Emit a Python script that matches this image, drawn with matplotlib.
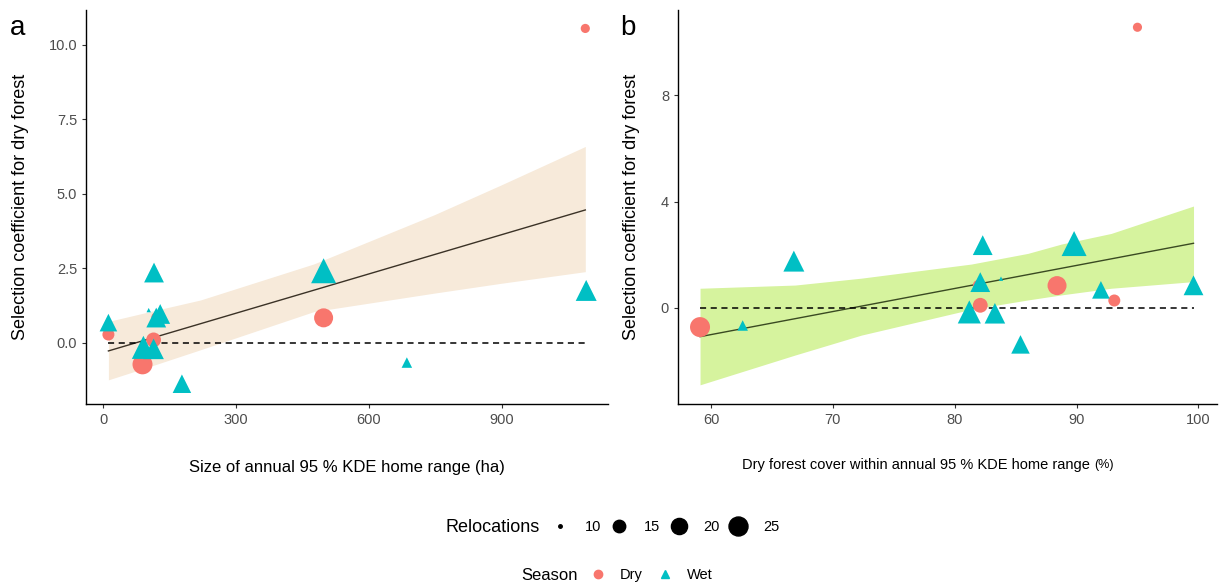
import matplotlib.pyplot as plt
import numpy as np
from matplotlib.lines import Line2D

plt.rcParams['font.family'] = ['Liberation Sans', 'DejaVu Sans']

# data
dry_y = [10.55, -0.72, 0.84, 0.28, 0.10, 0.86]
dry_range = [1089, 89, 498, 12, 114, 120]
dry_cover = [95.0, 59.1, 88.4, 93.1, 82.1, 81.9]
dry_reloc = [12, 27, 25, 14.5, 18, 12.5]

wet_y = [1.76, 2.42, -0.66, -1.37, 2.36, 0.68, 1.10, 0.97, 0.85, -0.15, -0.20]
wet_range = [1091, 498, 686, 178, 115, 12, 103, 129, 120, 91, 114]
wet_cover = [66.8, 89.8, 62.6, 85.4, 82.3, 92.0, 83.8, 82.1, 99.6, 81.2, 83.3]
wet_reloc = [21, 27, 11.5, 18, 19.5, 17, 10, 19.5, 19.5, 24, 20.5]

# fitted line and 95 % band
fit_a_x = [12, 1089]
fit_a_y = [-0.27, 4.46]
band_a_x = [12, 106, 220, 476, 748, 899, 1089]
band_a_lo = [-1.24, -0.79, -0.23, 1.05, 1.67, 2.00, 2.39]
band_a_hi = [0.72, 1.05, 1.44, 2.65, 4.30, 5.30, 6.59]

fit_b_x = [59.1, 99.6]
fit_b_y = [-1.08, 2.43]
band_b_x = [59.1, 66.9, 72.35, 81.37, 86.0, 88.75, 92.84, 99.6]
band_b_lo = [-2.89, -1.77, -1.02, -0.05, 0.30, 0.49, 0.74, 0.99]
band_b_hi = [0.74, 0.86, 1.12, 1.65, 2.05, 2.40, 2.80, 3.83]

size_breaks = [10, 15, 20, 25]

DRY = '#F8766D'
WET = '#00BFC4'


def size_px(r, rmin=10.0, rmax=27.0, dmin=3.5, dmax=20.0):
    r = np.clip(np.asarray(r, float), rmin, rmax)
    return dmin + (dmax - dmin) * np.sqrt((r - rmin) / (rmax - rmin))


def s_pts(r, tri=False):
    d = size_px(r) * 0.72
    if tri:
        d = d * 1.25
    return d ** 2


def panel(ax, xd, xw, fx, fy, bx, blo, bhi, band_col, line_col, pad):
    xall = np.array(xd + xw)
    ax.fill_between(bx, blo, bhi, color=band_col, lw=0, zorder=1)
    ax.plot(fx, fy, color=line_col, lw=1.0, zorder=2)
    ax.plot([xall.min(), xall.max()], [0, 0], color='black', ls=(0, (4, 3)), lw=1.1, zorder=2)
    ax.scatter(xd, dry_y, s=s_pts(dry_reloc), color=DRY, marker='o', lw=0, zorder=3)
    ax.scatter(xw, wet_y, s=s_pts(wet_reloc, tri=True), color=WET, marker='^', lw=0, zorder=3)
    for sp in ['top', 'right']:
        ax.spines[sp].set_visible(False)
    for sp in ['left', 'bottom']:
        ax.spines[sp].set_linewidth(1.0)
    ax.tick_params(colors='#333333', labelcolor='#4d4d4d', labelsize=10.5, length=3, width=0.8)
    ax.set_ylabel('Selection coefficient for dry forest', fontsize=13, labelpad=pad)


fig = plt.figure(figsize=(12.24, 5.86), dpi=100)
ax1 = fig.add_axes([0.0703, 0.3106, 0.4267, 0.6724])
ax2 = fig.add_axes([0.554, 0.3106, 0.440, 0.6724])

ax1.set_xlim(-38.5, 1141)
ax1.set_ylim(-2.05, 11.17)
ax1.set_xticks([0, 300, 600, 900])
ax1.set_yticks([0, 2.5, 5, 7.5, 10])
ax1.set_yticklabels(['0.0', '2.5', '5.0', '7.5', '10.0'])
panel(ax1, dry_range, wet_range, fit_a_x, fit_a_y, band_a_x, band_a_lo, band_a_hi,
      '#F7EADA', '#3b3226', 14.3)
ax1.set_xlabel('Size of annual 95 % KDE home range (ha)', fontsize=12, labelpad=24)

ax2.set_xlim(57.3, 101.5)
ax2.set_ylim(-3.61, 11.2)
ax2.set_xticks([60, 70, 80, 90, 100])
ax2.set_yticks([0, 4, 8])
panel(ax2, dry_cover, wet_cover, fit_b_x, fit_b_y, band_b_x, band_b_lo, band_b_hi,
      '#D6F39E', '#3a4a22', 15)
fig.text(1090 / 1224, 1 - 465 / 586, 'Dry forest cover within annual 95 % KDE home range',
         ha='right', va='center', fontsize=10.5)
fig.text(1094 / 1224, 1 - 465 / 586, '(%)', ha='left', va='center', fontsize=9)

fig.text(18 / 1224, 1 - 28 / 586, 'a', fontsize=20, va='center', ha='center')
fig.text(628 / 1224, 1 - 28 / 586, 'b', fontsize=20, va='center', ha='center')

# size legend
y1 = 1 - 527 / 586
fig.text(540 / 1224, y1, 'Relocations', ha='right', va='center', fontsize=13)
h_size = [Line2D([], [], ls='', marker='o', color='black', markersize=size_px(b) * 0.72)
          for b in size_breaks]
fig.legend(h_size, [str(b) for b in size_breaks], ncol=4, loc='center left',
           bbox_to_anchor=(544 / 1224, y1), frameon=False, fontsize=10.5,
           handlelength=1.4, handletextpad=1.0, columnspacing=0.55, borderaxespad=0)

# season legend
y2 = 1 - 575 / 586
fig.text(578 / 1224, y2, 'Season', ha='right', va='center', fontsize=12)
h_season = [Line2D([], [], ls='', marker='o', color=DRY, markersize=6),
            Line2D([], [], ls='', marker='^', color=WET, markersize=6)]
fig.legend(h_season, ['Dry', 'Wet'], ncol=2, loc='center left',
           bbox_to_anchor=(582 / 1224, y2), frameon=False, fontsize=10.5,
           handlelength=1.4, handletextpad=0.8, columnspacing=0.8, borderaxespad=0)

fig.savefig('out.png', dpi=100)
